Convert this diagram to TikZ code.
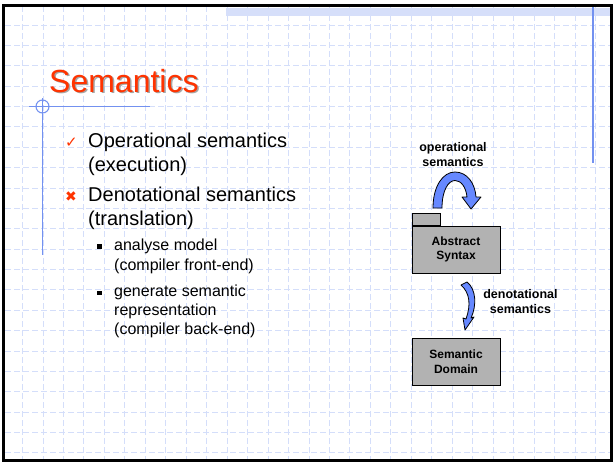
\documentclass[tikz,border=0pt]{standalone}
\usepackage{fontspec}
\setmainfont{Liberation Sans}
\newfontfamily\symfont{DejaVu Sans}
\usetikzlibrary{positioning}

\definecolor{titlered}{RGB}{255,51,0}
\definecolor{gridblue}{RGB}{212,222,250}
\definecolor{decoblue}{RGB}{115,145,240}
\definecolor{bandblue}{RGB}{214,223,250}
\definecolor{arrowblue}{RGB}{102,136,255}
\definecolor{boxgray}{RGB}{178,178,178}

\begin{document}
\begin{tikzpicture}[x=1pt,y=-1pt,
		gridline/.style={draw=gridblue,line width=0.6pt,dash pattern=on 6pt off 3pt},
		deco/.style={draw=decoblue,line width=1.1pt},
		maintext/.style={anchor=base west,inner sep=0pt,font=\fontsize{20}{24}\selectfont},
		subtext/.style={anchor=base west,inner sep=0pt,font=\fontsize{16}{19}\selectfont},
		sqbullet/.style={fill=black,inner sep=0pt,minimum size=4.5pt},
		sembox/.style={draw,fill=boxgray,line width=0.8pt,minimum width=88pt,minimum height=47pt,align=center,font=\fontsize{12}{14.5}\selectfont\bfseries},
		tab/.style={draw,fill=boxgray,line width=0.8pt,minimum width=28pt,minimum height=12pt,inner sep=0pt},
		arrlabel/.style={align=center,inner sep=0pt,font=\fontsize{12.5}{15}\selectfont\bfseries},
		blockarrow/.style={fill=arrowblue,draw=black,line width=0.8pt,line join=round}
		]
	\useasboundingbox (0,0) rectangle (615,463);
	\fill[white] (0,0) rectangle (615,463);

	% Hattér: rács
	% ----------------------
	\foreach \k in {0,...,28}
		\draw[gridline] ({22.4+20.46*\k},6) -- ({22.4+20.46*\k},459);
	\foreach \k in {0,...,21}
		\draw[gridline] (5,{24.9+20.37*\k}) -- (610,{24.9+20.37*\k});

	% felső sáv és díszítő vonalak
	\fill[bandblue] (226,8) rectangle (610,15.5);
	\draw[deco] (593,7) -- (593,163);
	\draw[deco] (29,106.5) -- (150,106.5);
	\draw[deco] (42.5,98) -- (42.5,255);
	\draw[deco] (42.5,106.5) circle (6.5);

	% keret
	\draw[line width=3pt] (3.5,5) rectangle (611.5,460.5);

	% Cím
	\node[anchor=base west,inner sep=0pt,text=black!35,font=\fontsize{32}{36}\selectfont] (titleshadow) at (50.5,93.5) {Semantics};
	\node[anchor=base west,inner sep=0pt,text=titlered,font=\fontsize{32}{36}\selectfont] (title) at (49,92) {Semantics};

	% Felsorolás
	% ----------------------
	\node[anchor=base west,inner sep=0pt,text=titlered,font=\symfont\fontsize{15}{15}\selectfont] (chk) at (65,147) {✓};
	\node[maintext] (op1) at (88,147) {Operational semantics};
	\node[maintext] (op2) at (88,171) {(execution)};

	\node[anchor=base west,inner sep=0pt,text=titlered,font=\symfont\fontsize{14}{14}\selectfont] (crs) at (65,201) {✖};
	\node[maintext] (den1) at (88,201.5) {Denotational semantics};
	\node[maintext] (den2) at (88,225.5) {(translation)};

	\node[sqbullet] (sq1) at (99.5,246.5) {};
	\node[subtext] (an1) at (114,250.5) {analyse model};
	\node[subtext] (an2) at (114,270) {(compiler front-end)};

	\node[sqbullet] (sq2) at (99.5,293) {};
	\node[subtext] (gen1) at (114,296.5) {generate semantic};
	\node[subtext] (gen2) at (114,315.5) {representation};
	\node[subtext] (gen3) at (114,334.5) {(compiler back-end)};

	% Diagram
	% ----------------------
	\node[sembox] (abs) at (456,249.5) {Abstract\\Syntax};
	\node[tab,anchor=south west] (abstab) at (abs.north west) {};
	\node[sembox] (dom) at (456,361.5) {Semantic\\Domain};

	% operációs szemantika nyíl
	\draw[blockarrow] (433,208) .. controls (433,186) and (443,172) .. (455,172)
		.. controls (467,172) and (475,183) .. (476,197) -- (481,197) -- (471,209) -- (462,197) -- (467,197)
		.. controls (466,187) and (461,180.5) .. (455,180.5)
		.. controls (448,180.5) and (442,191) .. (442,208) -- cycle;
	\node[arrlabel] (oplabel) at (453,154.5) {operational\\semantics};

	% denotációs szemantika nyíl
	\draw[blockarrow] (461,285) -- (467,282) .. controls (476,289) and (477,305) .. (471,318) -- (474,317)
		-- (465,330) -- (463,318) -- (466,319) .. controls (471,305) and (470,293) .. cycle;
	\node[arrlabel] (denlabel) at (520.5,301.5) {denotational\\semantics};

\end{tikzpicture}
\end{document}
